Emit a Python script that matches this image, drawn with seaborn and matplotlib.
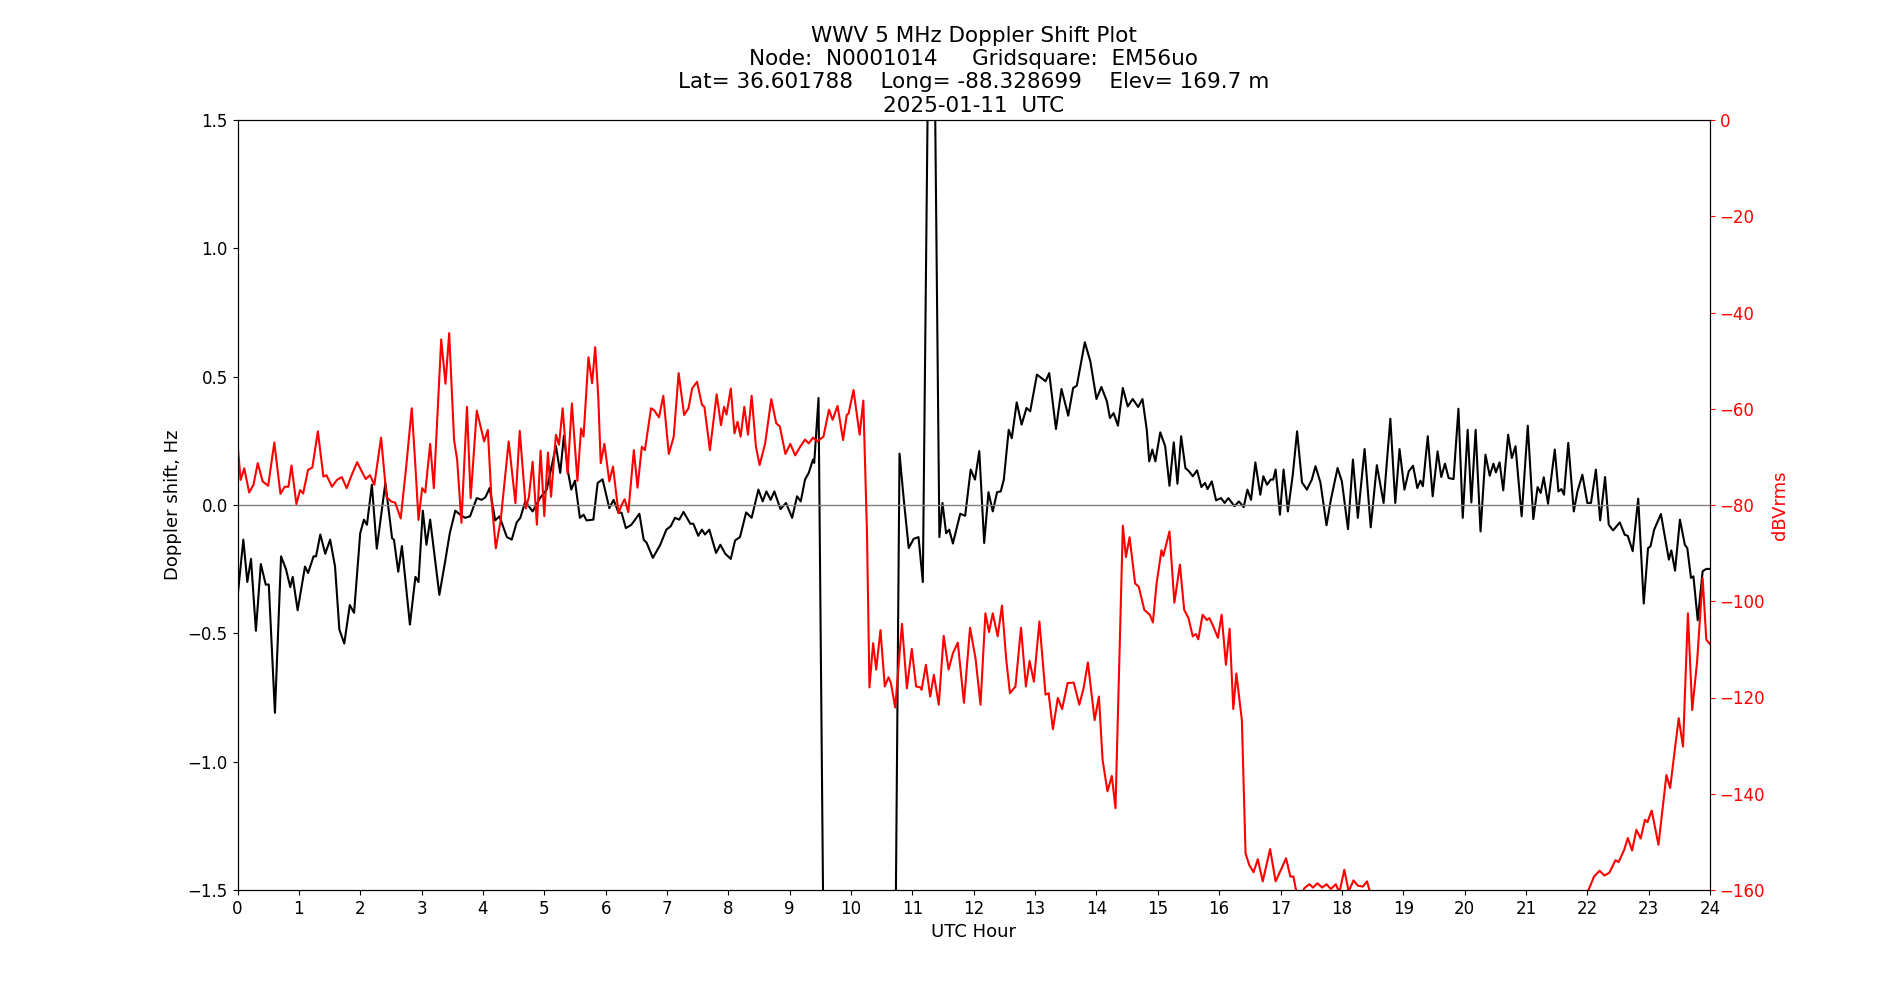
import numpy as np
import pandas as pd
import matplotlib
matplotlib.use("Agg")
import matplotlib.pyplot as plt
import seaborn as sns

# Doppler shift (black, left axis) - hour / Hz
doppler_hours = [
    0.00, 0.095, 0.16, 0.22, 0.30, 0.38, 0.46, 0.51, 0.61, 0.71, 0.79, 0.86, 0.90, 0.98,
    1.10, 1.15, 1.24, 1.28, 1.35, 1.43, 1.51, 1.59, 1.66, 1.74, 1.83, 1.90,
    2.00, 2.06, 2.11, 2.19, 2.27, 2.41, 2.52, 2.55, 2.62, 2.68, 2.81, 2.90, 2.95,
    3.02, 3.08, 3.14, 3.29, 3.38, 3.46, 3.55, 3.63, 3.71, 3.79, 3.90, 3.98,
    4.04, 4.11, 4.20, 4.27, 4.39, 4.47, 4.55, 4.61, 4.69, 4.81, 4.93,
    5.04, 5.19, 5.26, 5.32, 5.39, 5.44, 5.50, 5.58, 5.64, 5.69, 5.80, 5.87, 5.95,
    6.06, 6.13, 6.21, 6.26, 6.33, 6.42, 6.55, 6.62, 6.67, 6.77, 6.89, 6.99,
    7.06, 7.13, 7.20, 7.27, 7.38, 7.43, 7.51, 7.57, 7.62, 7.69, 7.80, 7.87, 7.95,
    8.04, 8.11, 8.19, 8.29, 8.38, 8.49, 8.56, 8.62, 8.69, 8.75, 8.85, 8.94,
    9.04, 9.12, 9.18, 9.25, 9.31, 9.38, 9.40, 9.47, 9.60,
    10.68, 10.79, 10.86, 10.94,
    11.02, 11.10, 11.17, 11.31, 11.44, 11.49, 11.55, 11.60, 11.66, 11.78, 11.86, 11.95,
    12.02, 12.09, 12.17, 12.24, 12.31, 12.38, 12.44, 12.49, 12.57, 12.62, 12.70, 12.78, 12.86, 12.92,
    13.03, 13.14, 13.17, 13.23, 13.34, 13.43, 13.54, 13.62, 13.68, 13.81, 13.90,
    14.00, 14.08, 14.17, 14.22, 14.28, 14.35, 14.43, 14.51, 14.59, 14.68, 14.75, 14.82, 14.86, 14.91, 14.96,
    15.04, 15.12, 15.19, 15.26, 15.32, 15.38, 15.45, 15.51, 15.57, 15.64, 15.71, 15.77, 15.81, 15.88, 15.95,
    16.03, 16.09, 16.15, 16.25, 16.32, 16.40, 16.46, 16.52, 16.59, 16.67, 16.72, 16.78, 16.84, 16.88, 16.92, 16.99,
    17.05, 17.12, 17.20, 17.27, 17.35, 17.43, 17.51, 17.57, 17.65, 17.75, 17.82, 17.93,
    18.00, 18.10, 18.18, 18.26, 18.37, 18.47, 18.57, 18.68, 18.79, 18.87, 18.94,
    19.02, 19.09, 19.16, 19.23, 19.28, 19.32, 19.40, 19.48, 19.56, 19.62, 19.68, 19.74, 19.82, 19.90, 19.97,
    20.05, 20.11, 20.18, 20.26, 20.34, 20.41, 20.47, 20.51, 20.57, 20.63, 20.71, 20.77, 20.83, 20.93,
    21.03, 21.12, 21.19, 21.24, 21.29, 21.36, 21.47, 21.53, 21.58, 21.62, 21.69, 21.78, 21.84, 21.92,
    22.00, 22.06, 22.14, 22.21, 22.29, 22.35, 22.42, 22.53, 22.61, 22.66, 22.74, 22.83, 22.92, 22.99,
    23.03, 23.09, 23.20, 23.33, 23.37, 23.43, 23.51, 23.59, 23.63, 23.69, 23.73, 23.80, 23.88, 23.94, 24.00,
]
doppler_hz = [
    -0.36, -0.135, -0.30, -0.21, -0.49, -0.23, -0.31, -0.31, -0.81, -0.20, -0.25, -0.32, -0.28, -0.41,
    -0.24, -0.265, -0.20, -0.20, -0.115, -0.19, -0.135, -0.24, -0.485, -0.54, -0.39, -0.42,
    -0.11, -0.057, -0.077, 0.079, -0.17, 0.086, -0.13, -0.135, -0.26, -0.16, -0.466, -0.28, -0.30,
    -0.022, -0.155, -0.057, -0.35, -0.226, -0.11, -0.022, -0.038, -0.05, -0.044, 0.027, 0.02,
    0.03, 0.066, -0.06, -0.044, -0.125, -0.135, -0.068, -0.05, 0.014, -0.025, 0.027,
    0.06, 0.23, 0.125, 0.27, 0.125, 0.06, 0.095, -0.05, -0.038, -0.06, -0.057, 0.086, 0.10,
    -0.012, 0.02, -0.03, -0.03, -0.09, -0.077, -0.034, -0.135, -0.148, -0.206, -0.155, -0.096,
    -0.083, -0.05, -0.057, -0.027, -0.073, -0.073, -0.12, -0.096, -0.115, -0.096, -0.187, -0.155, -0.19,
    -0.21, -0.138, -0.125, -0.029, -0.05, 0.06, 0.014, 0.053, 0.02, 0.053, -0.016, 0.008,
    -0.05, 0.034, 0.014, 0.099, 0.125, 0.177, 0.164, 0.417, -3.0,
    -3.0, 0.20, 0.02, -0.168,
    -0.132, -0.125, -0.30, 3.0, -0.125, 0.008, -0.11, -0.096, -0.15, -0.034, -0.042, 0.138,
    0.099, 0.21, -0.148, 0.05, -0.025, 0.05, 0.053, 0.099, 0.293, 0.26, 0.40, 0.313, 0.378, 0.365,
    0.508, 0.488, 0.482, 0.514, 0.296, 0.452, 0.348, 0.456, 0.465, 0.634, 0.56,
    0.413, 0.46, 0.404, 0.339, 0.358, 0.309, 0.456, 0.384, 0.413, 0.382, 0.413, 0.293, 0.17, 0.216, 0.17,
    0.283, 0.229, 0.075, 0.244, 0.083, 0.268, 0.144, 0.131, 0.112, 0.135, 0.07, 0.086, 0.062, 0.092, 0.018,
    0.027, 0.008, 0.027, -0.005, 0.014, -0.008, 0.06, 0.02, 0.166, 0.04, 0.112, 0.079, 0.099, 0.099, 0.138, -0.038,
    0.138, -0.025, 0.118, 0.287, 0.088, 0.06, 0.099, 0.151, 0.088, -0.079, 0.02, 0.144,
    0.092, -0.094, 0.177, -0.05, 0.218, -0.087, 0.155, 0.008, 0.336, 0.008, 0.218,
    0.06, 0.131, 0.153, 0.066, 0.095, 0.073, 0.268, 0.034, 0.209, 0.109, 0.161, 0.105, 0.101, 0.375, -0.05,
    0.293, 0.01, 0.293, -0.103, 0.196, 0.114, 0.161, 0.127, 0.166, 0.057, 0.274, 0.183, 0.229, -0.044,
    0.309, -0.055, 0.07, 0.047, 0.108, 0.005, 0.216, 0.053, 0.062, 0.04, 0.242, -0.025, 0.053, 0.118,
    0.008, 0.008, 0.138, -0.06, 0.109, -0.077, -0.099, -0.068, -0.116, -0.12, -0.18, 0.025, -0.384, -0.168,
    -0.161, -0.096, -0.035, -0.213, -0.177, -0.256, -0.057, -0.155, -0.168, -0.284, -0.278, -0.449, -0.258, -0.249, -0.249,
]

# Signal level (red, right axis) - hour / dBVrms
power_hours = [
    0.00, 0.05, 0.11, 0.19, 0.26, 0.33, 0.41, 0.50, 0.60, 0.70, 0.77, 0.83, 0.88, 0.96,
    1.02, 1.07, 1.15, 1.22, 1.31, 1.40, 1.45, 1.54, 1.62, 1.70, 1.78, 1.86, 1.95,
    2.02, 2.09, 2.16, 2.23, 2.34, 2.43, 2.51, 2.57, 2.66, 2.75, 2.84, 2.90, 2.95,
    3.01, 3.06, 3.14, 3.20, 3.32, 3.39, 3.45, 3.53, 3.58, 3.65, 3.74, 3.80, 3.90,
    4.02, 4.08, 4.14, 4.21, 4.29, 4.42, 4.53, 4.60, 4.70, 4.75, 4.81, 4.88, 4.94,
    5.00, 5.06, 5.11, 5.19, 5.24, 5.30, 5.38, 5.45, 5.54, 5.60, 5.64, 5.72, 5.78, 5.83, 5.88, 5.92, 5.98,
    6.06, 6.12, 6.21, 6.26, 6.31, 6.37, 6.46, 6.52, 6.59, 6.64, 6.74, 6.79, 6.87, 6.94,
    7.03, 7.11, 7.19, 7.28, 7.35, 7.41, 7.49, 7.57, 7.61, 7.70, 7.81, 7.88, 7.93, 7.97,
    8.04, 8.10, 8.15, 8.20, 8.26, 8.32, 8.38, 8.45, 8.51, 8.60, 8.70, 8.78, 8.84, 8.93,
    9.01, 9.09, 9.17, 9.25, 9.31, 9.38, 9.45, 9.55, 9.64, 9.70, 9.78, 9.87, 9.93, 9.96,
    10.04, 10.14, 10.20, 10.26, 10.30, 10.36, 10.41, 10.48, 10.55, 10.61, 10.65, 10.72, 10.83, 10.91, 10.99,
    11.06, 11.13, 11.15, 11.22, 11.29, 11.35, 11.43, 11.51, 11.59, 11.66, 11.74, 11.84, 11.94,
    12.03, 12.11, 12.19, 12.25, 12.31, 12.39, 12.46, 12.53, 12.59, 12.68, 12.77, 12.85, 12.91, 12.98,
    13.07, 13.17, 13.22, 13.29, 13.37, 13.44, 13.53, 13.63, 13.72, 13.79, 13.86, 13.97,
    14.04, 14.10, 14.18, 14.25, 14.31, 14.43, 14.48, 14.54, 14.63, 14.69, 14.78, 14.87, 14.92, 14.98,
    15.06, 15.09, 15.19, 15.27, 15.36, 15.43, 15.50, 15.57, 15.62, 15.66, 15.73, 15.80, 15.84, 15.91, 15.98,
    16.04, 16.11, 16.17, 16.23, 16.28, 16.37, 16.43, 16.49, 16.56, 16.63, 16.71, 16.83, 16.92,
    17.01, 17.09, 17.16, 17.21, 17.26, 17.32, 17.39, 17.47, 17.53, 17.60, 17.68, 17.75, 17.82, 17.90, 17.96,
    18.04, 18.11, 18.19, 18.26, 18.34, 18.41, 18.46, 18.55,
    19.00, 20.00, 21.00, 21.70, 21.75, 21.90,
    22.02, 22.11, 22.20, 22.28, 22.36, 22.46, 22.51, 22.60, 22.66, 22.73, 22.80, 22.87, 22.94, 22.98,
    23.05, 23.16, 23.23, 23.29, 23.35, 23.42, 23.49, 23.56, 23.64, 23.71, 23.79, 23.88, 23.94, 24.00,
]
power_dbv = [
    -67.0, -74.8, -72.4, -77.4, -75.8, -71.3, -75.1, -76.0, -67.0, -77.7, -76.2, -76.2, -71.8, -79.8,
    -76.9, -77.6, -72.7, -72.2, -64.7, -74.1, -73.8, -76.2, -74.8, -74.2, -76.5, -73.8, -71.1,
    -72.9, -74.6, -73.8, -75.8, -66.0, -78.4, -79.3, -79.5, -82.8, -72.0, -59.9, -72.0, -83.1,
    -76.5, -77.4, -67.3, -76.5, -45.6, -54.8, -44.3, -66.5, -70.6, -83.7, -59.6, -78.6, -60.4,
    -66.8, -64.4, -78.9, -89.0, -83.1, -66.8, -79.6, -64.6, -80.7, -78.3, -71.0, -84.1, -68.7,
    -82.3, -69.1, -78.3, -65.4, -67.5, -59.9, -73.5, -58.9, -75.0, -64.1, -65.8, -49.3, -54.7, -47.2, -57.5, -71.3, -67.3,
    -75.1, -72.0, -81.7, -80.0, -78.8, -81.5, -68.6, -76.4, -67.9, -68.6, -59.9, -60.3, -61.8, -57.3,
    -69.4, -65.8, -52.6, -61.3, -59.9, -55.8, -54.4, -59.2, -59.6, -68.6, -57.0, -63.4, -59.6, -61.2,
    -55.8, -65.1, -62.7, -65.8, -59.6, -65.4, -57.3, -67.9, -71.7, -67.2, -58.0, -63.0, -63.7, -69.4,
    -67.3, -69.7, -67.9, -66.4, -67.2, -66.0, -66.8, -65.8, -60.2, -62.3, -59.4, -66.5, -61.3, -61.0,
    -56.1, -65.4, -58.3, -85.9, -117.9, -108.7, -114.2, -106.0, -117.7, -115.8, -117.0, -122.1, -104.7, -118.1, -109.9,
    -117.7, -117.9, -118.4, -113.2, -119.8, -115.3, -121.5, -107.2, -114.2, -110.8, -108.6, -121.1, -105.5,
    -112.0, -121.5, -102.5, -106.4, -102.5, -107.3, -100.9, -112.2, -119.1, -117.7, -105.5, -117.7, -112.4, -116.7,
    -104.2, -119.4, -119.1, -126.6, -120.1, -122.4, -117.0, -116.9, -121.5, -118.1, -112.7, -124.7,
    -119.8, -133.0, -139.5, -136.3, -143.0, -84.3, -90.8, -86.7, -96.3, -97.0, -101.8, -102.8, -104.4, -96.3,
    -89.4, -90.6, -85.5, -100.3, -92.4, -101.8, -103.5, -107.3, -106.8, -107.9, -102.8, -103.9, -103.5, -105.4, -107.6,
    -102.8, -113.2, -105.7, -122.4, -115.0, -124.7, -152.4, -154.8, -156.3, -153.6, -158.2, -151.5, -158.2,
    -155.7, -153.4, -157.2, -157.2, -160.5, -161.5, -159.6, -158.8, -159.5, -158.6, -159.5, -158.8, -159.8, -158.8, -160.5,
    -155.8, -160.3, -158.0, -159.1, -159.3, -158.2, -160.5, -163.0,
    -164.0, -165.0, -164.0, -161.0, -160.2, -162.0,
    -160.0, -157.2, -156.0, -157.0, -156.4, -153.8, -154.2, -151.7, -149.2, -151.8, -147.5, -149.3, -145.4, -145.9,
    -143.5, -150.6, -142.7, -136.1, -138.8, -131.6, -124.3, -130.2, -102.5, -122.6, -112.5, -95.2, -108.0, -108.9,
]

title_lines = [
    "WWV 5 MHz Doppler Shift Plot",
    "Node:  N0001014     Gridsquare:  EM56uo",
    "Lat= 36.601788    Long= -88.328699    Elev= 169.7 m",
    "2025-01-11  UTC",
]
hour_ticks = list(range(0, 25))

plt.rcParams["font.size"] = 12

fig, ax = plt.subplots(figsize=(19, 10), dpi=100)

dop = pd.DataFrame({"hour": doppler_hours, "shift": doppler_hz})
pw = pd.DataFrame({"hour": power_hours, "dbv": power_dbv})

sns.lineplot(data=dop, x="hour", y="shift", ax=ax, color="black", linewidth=1.5, estimator=None)
ax.axhline(0, color="gray", linewidth=1)
ax.set_xlim(0, 24)
ax.set_ylim(-1.5, 1.5)
ax.set_xticks(hour_ticks)
ax.set_xlabel("UTC Hour", fontsize=13)
ax.set_ylabel("Doppler shift, Hz", fontsize=13)
ax.set_title("\n".join(title_lines), fontsize=15.5)

ax2 = ax.twinx()
sns.lineplot(data=pw, x="hour", y="dbv", ax=ax2, color="red", linewidth=1.5, estimator=None)
ax2.set_ylim(-160, 0)
ax2.set_ylabel("dBVrms", color="red", fontsize=13)
ax2.tick_params(axis="y", colors="red")
ax2.spines["right"].set_color("black")

fig.savefig("out.png")
